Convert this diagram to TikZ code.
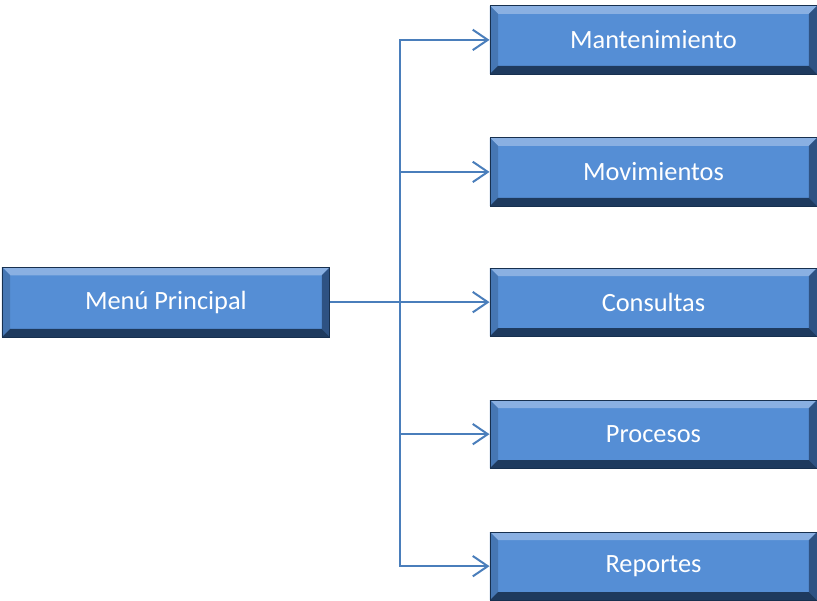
\documentclass[tikz,border=0pt]{standalone}
\usepackage{fontspec}
\setmainfont{Carlito}
\usetikzlibrary{arrows.meta}
\definecolor{boxmid}{HTML}{558ED5}
\definecolor{boxlight}{HTML}{8AB0E2}
\definecolor{boxleft}{HTML}{4677B4}
\definecolor{boxright}{HTML}{2E5283}
\definecolor{boxbottom}{HTML}{1E3A5E}
\definecolor{boxdark}{HTML}{17304F}
\definecolor{linkblue}{HTML}{4A7EBB}
\newcommand{\bev}{0.27cm}

\begin{document}
\begin{tikzpicture}[
    menubox/.style={minimum width=10.9cm, minimum height=2.27cm, inner sep=0pt,
        fill=boxmid, draw=boxdark, line width=0.8pt, text=white,
        font=\fontsize{25}{30}\selectfont,
        path picture={
            \coordinate (nw) at (path picture bounding box.north west);
            \coordinate (ne) at (path picture bounding box.north east);
            \coordinate (sw) at (path picture bounding box.south west);
            \coordinate (se) at (path picture bounding box.south east);
            \fill[boxlight]  (nw) -- (ne) -- ([xshift=-\bev,yshift=-\bev]ne) -- ([xshift=\bev,yshift=-\bev]nw) -- cycle;
            \fill[boxleft]   (nw) -- (sw) -- ([xshift=\bev,yshift=\bev]sw) -- ([xshift=\bev,yshift=-\bev]nw) -- cycle;
            \fill[boxright]  (ne) -- (se) -- ([xshift=-\bev,yshift=\bev]se) -- ([xshift=-\bev,yshift=-\bev]ne) -- cycle;
            \fill[boxbottom] (sw) -- (se) -- ([xshift=-\bev,yshift=\bev]se) -- ([xshift=\bev,yshift=\bev]sw) -- cycle;
        }},
    link/.style={draw=linkblue, line width=1.9pt},
    arrow/.style={-{Straight Barb[length=0.5cm, width=0.68cm, line width=1.9pt]}},
    branch/.style={to path={|- (\tikztotarget)}}
]
        \useasboundingbox (0,0) rectangle (27.23,-20);

        \node[menubox, minimum width=10.93cm, minimum height=2.33cm](Menu) at (5.53,-10.07) {Menú Principal};
        \node[menubox](Man) at (21.78,-1.33)  {Mantenimiento};
        \node[menubox](Mov) at (21.78,-5.73)  {Movimientos};
        \node[menubox](Con) at (21.78,-10.07) {Consultas};
        \node[menubox](Pro) at (21.78,-14.47) {Procesos};
        \node[menubox](Rep) at (21.78,-18.87) {Reportes};

        \coordinate (J) at (13.33,-10.07);
        \path
            (Menu.east) edge [link, arrow]         (Con.west)
            (J)         edge [link, arrow, branch] (Man.west)
                        edge [link, arrow, branch] (Mov.west)
                        edge [link, arrow, branch] (Pro.west)
                        edge [link, arrow, branch] (Rep.west)
            ;
\end{tikzpicture}
\end{document}
